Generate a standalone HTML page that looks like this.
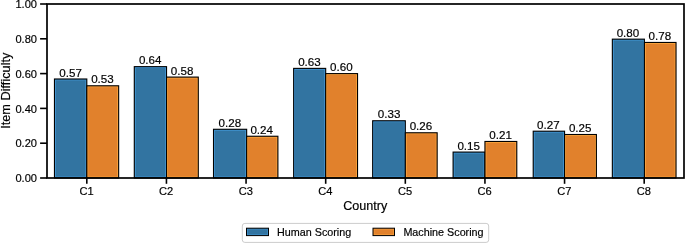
<!DOCTYPE html>
<html><head><meta charset="utf-8"><title>Item Difficulty by Country</title>
<style>html,body{margin:0;padding:0;background:#fff;}svg{display:block}</style></head>
<body>
<svg width="685" height="243" viewBox="0 0 685 243" font-family='"Liberation Sans", Arial, sans-serif' fill="#000" stroke="#000" stroke-width="0.18">
<rect width="685" height="243" fill="#fff" stroke="none"/>
<rect x="54.46" y="78.99" width="32.35" height="99.01" fill="#3274a1" stroke="none"/>
<rect x="55.41" y="79.94" width="30.45" height="97.11" fill="none" stroke="#4197d6" stroke-width="0.9" stroke-opacity="1"/>
<rect x="54.46" y="78.99" width="32.35" height="99.01" fill="none" stroke="#000" stroke-width="1.1"/>
<text x="70.59" y="76.59" font-size="11.6" text-anchor="middle">0.57</text>
<rect x="86.81" y="85.78" width="31.85" height="92.22" fill="#e1812c" stroke="none"/>
<rect x="87.76" y="86.73" width="29.95" height="90.32" fill="none" stroke="#fba63e" stroke-width="0.9" stroke-opacity="1"/>
<rect x="86.81" y="85.78" width="31.85" height="92.22" fill="none" stroke="#000" stroke-width="1.1"/>
<text x="102.44" y="83.38" font-size="11.6" text-anchor="middle">0.53</text>
<rect x="134.29" y="66.64" width="32.25" height="111.36" fill="#3274a1" stroke="none"/>
<rect x="135.24" y="67.59" width="30.35" height="109.46" fill="none" stroke="#4197d6" stroke-width="0.9" stroke-opacity="1"/>
<rect x="134.29" y="66.64" width="32.25" height="111.36" fill="none" stroke="#000" stroke-width="1.1"/>
<text x="150.21" y="64.24" font-size="11.6" text-anchor="middle">0.64</text>
<rect x="166.54" y="77.08" width="31.75" height="100.92" fill="#e1812c" stroke="none"/>
<rect x="167.49" y="78.03" width="29.85" height="99.02" fill="none" stroke="#fba63e" stroke-width="0.9" stroke-opacity="1"/>
<rect x="166.54" y="77.08" width="31.75" height="100.92" fill="none" stroke="#000" stroke-width="1.1"/>
<text x="182.06" y="74.68" font-size="11.6" text-anchor="middle">0.58</text>
<rect x="213.51" y="129.28" width="33.15" height="48.72" fill="#3274a1" stroke="none"/>
<rect x="214.46" y="130.23" width="31.25" height="46.82" fill="none" stroke="#4197d6" stroke-width="0.9" stroke-opacity="1"/>
<rect x="213.51" y="129.28" width="33.15" height="48.72" fill="none" stroke="#000" stroke-width="1.1"/>
<text x="229.84" y="126.88" font-size="11.6" text-anchor="middle">0.28</text>
<rect x="246.66" y="136.24" width="31.25" height="41.76" fill="#e1812c" stroke="none"/>
<rect x="247.61" y="137.19" width="29.35" height="39.86" fill="none" stroke="#fba63e" stroke-width="0.9" stroke-opacity="1"/>
<rect x="246.66" y="136.24" width="31.25" height="41.76" fill="none" stroke="#000" stroke-width="1.1"/>
<text x="261.69" y="133.84" font-size="11.6" text-anchor="middle">0.24</text>
<rect x="293.64" y="68.38" width="32.05" height="109.62" fill="#3274a1" stroke="none"/>
<rect x="294.59" y="69.33" width="30.15" height="107.72" fill="none" stroke="#4197d6" stroke-width="0.9" stroke-opacity="1"/>
<rect x="293.64" y="68.38" width="32.05" height="109.62" fill="none" stroke="#000" stroke-width="1.1"/>
<text x="309.46" y="65.98" font-size="11.6" text-anchor="middle">0.63</text>
<rect x="325.69" y="73.60" width="31.85" height="104.40" fill="#e1812c" stroke="none"/>
<rect x="326.64" y="74.55" width="29.95" height="102.50" fill="none" stroke="#fba63e" stroke-width="0.9" stroke-opacity="1"/>
<rect x="325.69" y="73.60" width="31.85" height="104.40" fill="none" stroke="#000" stroke-width="1.1"/>
<text x="341.31" y="71.20" font-size="11.6" text-anchor="middle">0.60</text>
<rect x="372.66" y="120.75" width="32.65" height="57.25" fill="#3274a1" stroke="none"/>
<rect x="373.61" y="121.70" width="30.75" height="55.35" fill="none" stroke="#4197d6" stroke-width="0.9" stroke-opacity="1"/>
<rect x="372.66" y="120.75" width="32.65" height="57.25" fill="none" stroke="#000" stroke-width="1.1"/>
<text x="389.09" y="118.35" font-size="11.6" text-anchor="middle">0.33</text>
<rect x="405.31" y="132.76" width="31.85" height="45.24" fill="#e1812c" stroke="none"/>
<rect x="406.26" y="133.71" width="29.95" height="43.34" fill="none" stroke="#fba63e" stroke-width="0.9" stroke-opacity="1"/>
<rect x="405.31" y="132.76" width="31.85" height="45.24" fill="none" stroke="#000" stroke-width="1.1"/>
<text x="420.94" y="130.36" font-size="11.6" text-anchor="middle">0.26</text>
<rect x="453.09" y="152.07" width="31.85" height="25.93" fill="#3274a1" stroke="none"/>
<rect x="454.04" y="153.02" width="29.95" height="24.03" fill="none" stroke="#4197d6" stroke-width="0.9" stroke-opacity="1"/>
<rect x="453.09" y="152.07" width="31.85" height="25.93" fill="none" stroke="#000" stroke-width="1.1"/>
<text x="468.71" y="149.67" font-size="11.6" text-anchor="middle">0.15</text>
<rect x="484.94" y="141.46" width="31.85" height="36.54" fill="#e1812c" stroke="none"/>
<rect x="485.89" y="142.41" width="29.95" height="34.64" fill="none" stroke="#fba63e" stroke-width="0.9" stroke-opacity="1"/>
<rect x="484.94" y="141.46" width="31.85" height="36.54" fill="none" stroke="#000" stroke-width="1.1"/>
<text x="500.56" y="139.06" font-size="11.6" text-anchor="middle">0.21</text>
<rect x="533.21" y="131.19" width="31.35" height="46.81" fill="#3274a1" stroke="none"/>
<rect x="534.16" y="132.14" width="29.45" height="44.91" fill="none" stroke="#4197d6" stroke-width="0.9" stroke-opacity="1"/>
<rect x="533.21" y="131.19" width="31.35" height="46.81" fill="none" stroke="#000" stroke-width="1.1"/>
<text x="548.34" y="128.79" font-size="11.6" text-anchor="middle">0.27</text>
<rect x="564.56" y="134.50" width="31.85" height="43.50" fill="#e1812c" stroke="none"/>
<rect x="565.51" y="135.45" width="29.95" height="41.60" fill="none" stroke="#fba63e" stroke-width="0.9" stroke-opacity="1"/>
<rect x="564.56" y="134.50" width="31.85" height="43.50" fill="none" stroke="#000" stroke-width="1.1"/>
<text x="580.19" y="132.10" font-size="11.6" text-anchor="middle">0.25</text>
<rect x="612.34" y="39.15" width="32.05" height="138.85" fill="#3274a1" stroke="none"/>
<rect x="613.29" y="40.10" width="30.15" height="136.95" fill="none" stroke="#4197d6" stroke-width="0.9" stroke-opacity="1"/>
<rect x="612.34" y="39.15" width="32.05" height="138.85" fill="none" stroke="#000" stroke-width="1.1"/>
<text x="627.96" y="36.75" font-size="11.6" text-anchor="middle">0.80</text>
<rect x="644.39" y="42.45" width="31.65" height="135.55" fill="#e1812c" stroke="none"/>
<rect x="645.34" y="43.40" width="29.75" height="133.65" fill="none" stroke="#fba63e" stroke-width="0.9" stroke-opacity="1"/>
<rect x="644.39" y="42.45" width="31.65" height="135.55" fill="none" stroke="#000" stroke-width="1.1"/>
<text x="659.81" y="40.05" font-size="11.6" text-anchor="middle">0.78</text>
<rect x="47.0" y="4.0" width="637.0" height="174.0" fill="none" stroke="#000" stroke-width="1.7"/>
<line x1="40.10" x2="47.00" y1="178.00" y2="178.00" stroke="#000" stroke-width="1.6"/>
<text x="37.00" y="182.10" font-size="11.1" text-anchor="end">0.00</text>
<line x1="40.10" x2="47.00" y1="143.20" y2="143.20" stroke="#000" stroke-width="1.6"/>
<text x="37.00" y="147.30" font-size="11.1" text-anchor="end">0.20</text>
<line x1="40.10" x2="47.00" y1="108.40" y2="108.40" stroke="#000" stroke-width="1.6"/>
<text x="37.00" y="112.50" font-size="11.1" text-anchor="end">0.40</text>
<line x1="40.10" x2="47.00" y1="73.60" y2="73.60" stroke="#000" stroke-width="1.6"/>
<text x="37.00" y="77.70" font-size="11.1" text-anchor="end">0.60</text>
<line x1="40.10" x2="47.00" y1="38.80" y2="38.80" stroke="#000" stroke-width="1.6"/>
<text x="37.00" y="42.90" font-size="11.1" text-anchor="end">0.80</text>
<line x1="40.10" x2="47.00" y1="4.00" y2="4.00" stroke="#000" stroke-width="1.6"/>
<text x="37.00" y="8.10" font-size="11.1" text-anchor="end">1.00</text>
<line x1="86.81" x2="86.81" y1="178.00" y2="183.80" stroke="#000" stroke-width="1.6"/>
<text x="86.51" y="194.9" font-size="11.1" text-anchor="middle">C1</text>
<line x1="166.44" x2="166.44" y1="178.00" y2="183.80" stroke="#000" stroke-width="1.6"/>
<text x="166.14" y="194.9" font-size="11.1" text-anchor="middle">C2</text>
<line x1="246.06" x2="246.06" y1="178.00" y2="183.80" stroke="#000" stroke-width="1.6"/>
<text x="245.76" y="194.9" font-size="11.1" text-anchor="middle">C3</text>
<line x1="325.69" x2="325.69" y1="178.00" y2="183.80" stroke="#000" stroke-width="1.6"/>
<text x="325.39" y="194.9" font-size="11.1" text-anchor="middle">C4</text>
<line x1="405.31" x2="405.31" y1="178.00" y2="183.80" stroke="#000" stroke-width="1.6"/>
<text x="405.01" y="194.9" font-size="11.1" text-anchor="middle">C5</text>
<line x1="484.94" x2="484.94" y1="178.00" y2="183.80" stroke="#000" stroke-width="1.6"/>
<text x="484.64" y="194.9" font-size="11.1" text-anchor="middle">C6</text>
<line x1="564.56" x2="564.56" y1="178.00" y2="183.80" stroke="#000" stroke-width="1.6"/>
<text x="564.26" y="194.9" font-size="11.1" text-anchor="middle">C7</text>
<line x1="644.19" x2="644.19" y1="178.00" y2="183.80" stroke="#000" stroke-width="1.6"/>
<text x="643.89" y="194.9" font-size="11.1" text-anchor="middle">C8</text>
<text x="365.2" y="210" font-size="12.6" text-anchor="middle">Country</text>
<text transform="translate(9.9 90.7) rotate(-90)" font-size="12.75" text-anchor="middle">Item Difficulty</text>
<rect x="242.3" y="223.4" width="246.4" height="19" rx="2.6" fill="#fff" stroke="#cccccc" stroke-width="1"/>
<rect x="246.5" y="228.2" width="22" height="7.4" fill="#3274a1" stroke="none"/>
<rect x="247.45" y="229.14999999999998" width="20.1" height="5.5" fill="none" stroke="#4197d6" stroke-width="0.8" stroke-opacity="0.7"/>
<rect x="246.5" y="228.2" width="22" height="7.4" fill="none" stroke="#000" stroke-width="1"/>
<text x="277.0" y="235.7" font-size="10.78">Human Scoring</text>
<rect x="373" y="228.2" width="21.5" height="7.4" fill="#e1812c" stroke="none"/>
<rect x="373.95" y="229.14999999999998" width="19.6" height="5.5" fill="none" stroke="#fba63e" stroke-width="0.8" stroke-opacity="0.7"/>
<rect x="373" y="228.2" width="21.5" height="7.4" fill="none" stroke="#000" stroke-width="1"/>
<text x="403.4" y="235.7" font-size="10.78">Machine Scoring</text>
</svg>
</body></html>
